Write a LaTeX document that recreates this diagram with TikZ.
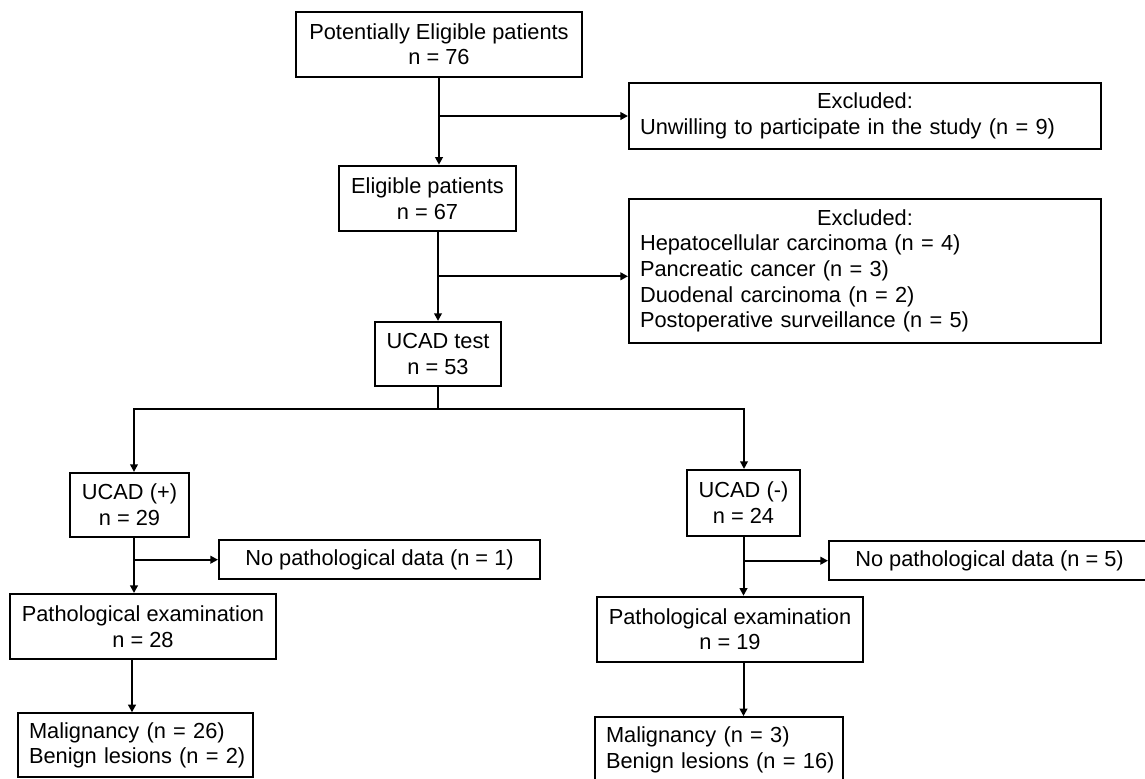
\documentclass[tikz,border=0pt]{standalone}
\usepackage{fontspec}
\setmainfont{Liberation Sans}
\usetikzlibrary{arrows.meta}

\begin{document}
\begin{tikzpicture}[x=0.5pt, y=-0.5pt, line width=1pt,
  >={Triangle[length=3.8pt,width=3.8pt]},
  box/.style={draw, rectangle, align=center, inner sep=0pt,
    font=\fontsize{10.9}{12.8}\selectfont},
  listbox/.style={box, align=left, inner xsep=5.5pt}]
\useasboundingbox (0,0) rectangle (1145,778);
\clip (0,0) rectangle (1145,778);
%----------------------------------------
\node[box, minimum width=143pt, minimum height=32.5pt] (pot) at (439,44.2)
  {Potentially Eligible patients\\n = 76};
\node[listbox, text width=225pt, minimum height=32.7pt] (excl1) at (865,116)
  {\makebox[\linewidth]{Excluded:}\\\mbox{Unwilling to participate in the study (n = 9)}};
\node[box, minimum width=88.5pt, minimum height=32.8pt] (elig) at (427.5,198.5)
  {Eligible patients\\n = 67};
\node[listbox, text width=225pt, minimum height=71.9pt] (excl2) at (865,270.8)
  {\makebox[\linewidth]{Excluded:}\\Hepatocellular carcinoma (n = 4)\\Pancreatic cancer (n = 3)\\Duodenal carcinoma (n = 2)\\Postoperative surveillance (n = 5)};
\node[box, minimum width=63pt, minimum height=31.9pt] (test) at (438,353.8)
  {UCAD test\\n = 53};
%----------------------------------------
\node[box, minimum width=59.5pt, minimum height=31.9pt] (ucadp) at (129.5,504.8)
  {UCAD (+)\\n = 29};
\node[box, minimum width=160.5pt, minimum height=19.4pt] (nopd1) at (379.5,559.7)
  {No pathological data (n = 1)};
\node[box, minimum width=133pt, minimum height=32.7pt] (path28) at (143,626.7)
  {Pathological examination\\n = 28};
\node[listbox, text width=106.5pt, minimum height=31.9pt] (maligL) at (135.5,745.2)
  {\mbox{Malignancy (n = 26)}\\\mbox{Benign lesions (n = 2)}};
%----------------------------------------
\node[box, minimum width=56.5pt, minimum height=32.9pt] (ucadn) at (743.5,502.8)
  {UCAD (-)\\n = 24};
\node[box, minimum width=160.5pt, minimum height=19.4pt] (nopd5) at (989.5,560.7)
  {No pathological data (n = 5)};
\node[box, minimum width=133pt, minimum height=32.5pt] (path19) at (730,629.2)
  {Pathological examination\\n = 19};
\node[listbox, text width=113pt, minimum height=32.5pt] (maligR) at (719,749.7)
  {\mbox{Malignancy (n = 3)}\\\mbox{Benign lesions (n = 16)}};
%----------------------------------------
\coordinate (b2) at (438,276.3);
\coordinate (sL) at (134,409.3);
\coordinate (sR) at (744,409.3);
\coordinate (dL) at (132,660);
%----------------------------------------
\draw[->] (pot.south) -- (pot.south |- elig.north);
\draw[->] (pot.south |- excl1.west) -- (excl1.west);
\draw[->] (elig.south -| test.north) -- (test.north);
\draw[->] (b2) -- (b2 -| excl2.west);
\draw (test.south) -- (test.south |- sL);
\draw[<->] (sL |- ucadp.north) -- (sL) -- (sR) -- (sR |- ucadn.north);
%----------------------------------------
\draw[->] (ucadp.south -| sL) -- (path28.north -| sL);
\draw[->] (nopd1.west -| sL) -- (nopd1.west);
\draw[->] (path28.south -| dL) -- (maligL.north -| dL);
\draw[->] (ucadn.south) -- (ucadn.south |- path19.north);
\draw[->] (ucadn.south |- nopd5.west) -- (nopd5.west);
\draw[->] (path19.south -| ucadn.south) -- (maligR.north -| ucadn.south);
\end{tikzpicture}
\end{document}
